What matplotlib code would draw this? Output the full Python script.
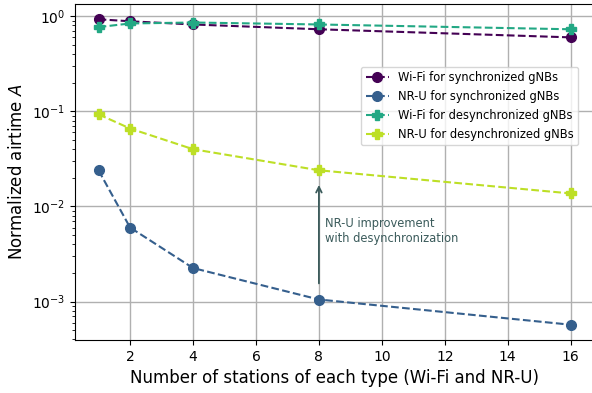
import matplotlib
matplotlib.use("Agg")
import matplotlib.pyplot as plt
import numpy as np

stations = [1, 2, 4, 8, 16]
wifi_sync = [0.93, 0.886, 0.82, 0.73, 0.60]
nru_sync = [0.0239, 0.0060, 0.00225, 0.00105, 0.00057]
wifi_desync = [0.77, 0.84, 0.86, 0.82, 0.73]
nru_desync = [0.093, 0.066, 0.040, 0.024, 0.0137]

cmap = plt.get_cmap("viridis")
colors = [cmap(0.0), cmap(0.3), cmap(0.6), cmap(0.9)]

fig = plt.figure(figsize=(5.92, 3.93), dpi=100)
ax = fig.add_axes([75 / 592, 53 / 393, 519.3 / 592, 336 / 393])

ax.plot(stations, wifi_sync, "--o", color=colors[0], ms=7, lw=1.5,
        label="Wi-Fi for synchronized gNBs")
ax.plot(stations, nru_sync, "--o", color=colors[1], ms=7, lw=1.5,
        label="NR-U for synchronized gNBs")
ax.plot(stations, wifi_desync, "--P", color=colors[2], ms=7, lw=1.5,
        label="Wi-Fi for desynchronized gNBs")
ax.plot(stations, nru_desync, "--P", color=colors[3], ms=7, lw=1.5,
        label="NR-U for desynchronized gNBs")

ax.set_yscale("log")
ax.set_xticks([2, 4, 6, 8, 10, 12, 14, 16])
ax.grid(True, which="major", color="#b0b0b0", lw=1)
ax.set_axisbelow(True)

arrow_color = "#3b5b5b"
ax.annotate("", xy=(8, 0.0180), xytext=(8, 0.00145),
            arrowprops=dict(arrowstyle="->", color=arrow_color, lw=1.3))
ax.text(8.2, 0.0055, "NR-U improvement\nwith desynchronization",
        color=arrow_color, fontsize=8.3, va="center", ha="left")

ax.set_xlabel("Number of stations of each type (Wi-Fi and NR-U)", fontsize=12)
ax.set_ylabel("Normalized airtime $A$", fontsize=12)

ax.legend(loc="upper right", bbox_to_anchor=(0.980, 0.830), fontsize=8.3)

fig.savefig("out.png", dpi=100)
